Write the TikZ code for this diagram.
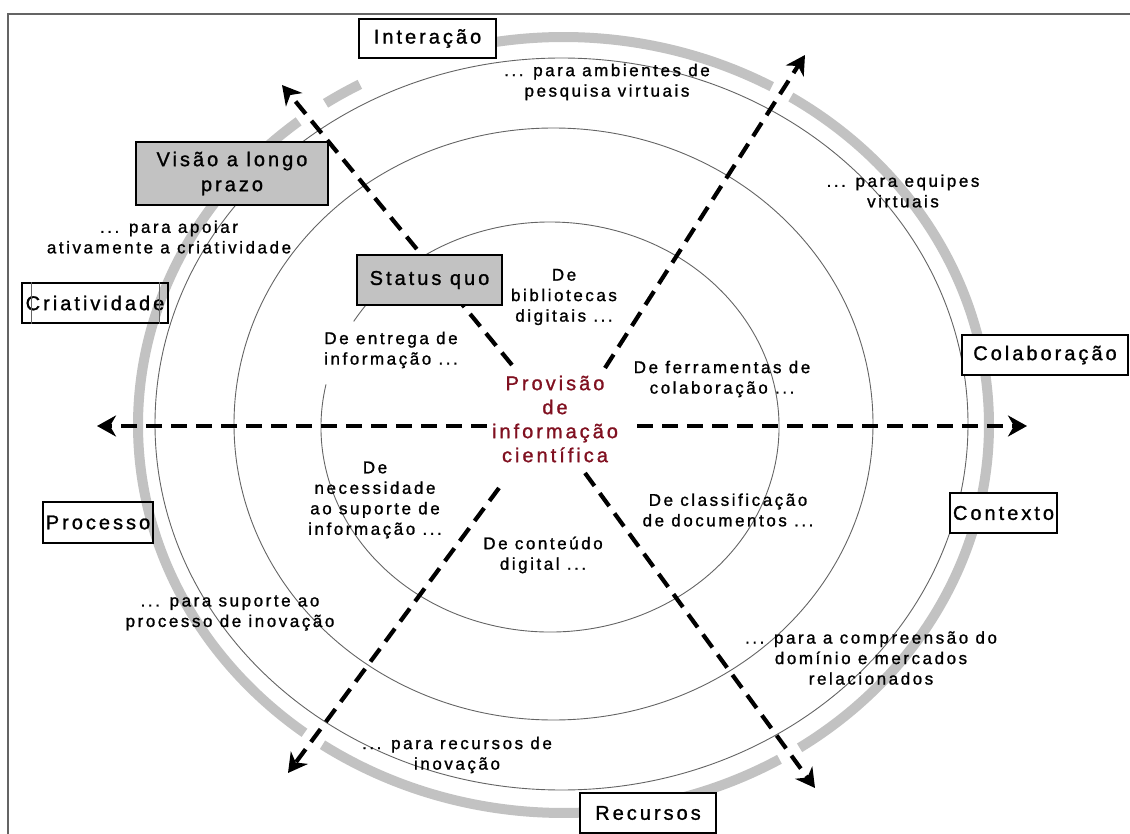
\documentclass[tikz,border=0pt]{standalone}
\usepackage{fontspec}
\setmainfont{Liberation Sans}[LetterSpace=15,FakeBold=1.2]
\usepackage{tikz}
\usetikzlibrary{shapes,arrows,arrows.meta,positioning}
\definecolor{vinho}{RGB}{128,16,32}
\definecolor{cinza}{RGB}{194,194,194}
\definecolor{traco}{RGB}{100,100,100}

\begin{document}
\begin{tikzpicture}[x=1pt,y=-1pt,
	caixa/.style={draw=black,line width=1.2pt,fill=white,minimum height=40pt,inner sep=0pt,font=\fontsize{20}{25}\selectfont,align=center},
	caixacinza/.style={caixa,fill=cinza},
	rotulo/.style={align=center,inner sep=0pt,font=\fontsize{17}{20.5}\selectfont},
	eixo/.style={dash pattern=on 16pt off 9pt,line width=4.2pt,-{Stealth[length=19pt,width=21pt,inset=6pt]}},
	anel/.style={draw=traco,line width=0.9pt},
	faixa/.style={draw=cinza,line width=10pt}]
				\useasboundingbox (0,0) rectangle (1130,834);
				\draw [draw=traco, line width=1.5pt] (8,14) rectangle (1140,845);
				% faixa cinza externa
				\draw [faixa] (563.5,425) ++(-60.7:425.5 and 388) arc [start angle=-60.7, end angle=-103, x radius=425.5, y radius=388];
				\draw [faixa] (563.5,425) ++(-118.6:425.5 and 388) arc [start angle=-118.6, end angle=-124, x radius=425.5, y radius=388];
				\draw [faixa] (563.5,425) ++(-128.5:425.5 and 388) arc [start angle=-128.5, end angle=-232.5, x radius=425.5, y radius=388];
				\draw [faixa] (563.5,425) ++(-235.5:425.5 and 388) arc [start angle=-235.5, end angle=-300.5, x radius=425.5, y radius=388];
				\draw [faixa] (563.5,425) ++(-303.7:425.5 and 388) arc [start angle=-303.7, end angle=-417.7, x radius=425.5, y radius=388];
				% aneis finos
				\draw [anel] (561.5,424) ellipse [x radius=406.5, y radius=366];
				\draw [anel] (553.5,424) ellipse [x radius=319.5, y radius=296];
				\draw [anel] (550,427) ++(-168:229 and 205) arc [start angle=-168, end angle=-509, x radius=229, y radius=205];
				% eixos
				\coordinate (oW) at (487,426);	\coordinate (pW) at (97,426);
				\coordinate (oE) at (637,426);	\coordinate (pE) at (1027,426);
				\coordinate (oNW) at (512,365);	\coordinate (pNW) at (282,85);
				\coordinate (oNE) at (605,368);	\coordinate (pNE) at (805,55);
				\coordinate (oSW) at (499,488);	\coordinate (pSW) at (288,773);
				\coordinate (oSE) at (585,473);	\coordinate (pSE) at (815,788);
				\draw [eixo] (oW) -- (pW);
				\draw [eixo] (oE) -- (pE);
				\draw [eixo] (oNW) -- (pNW);
				\draw [eixo] (oNE) -- (pNE);
				\draw [eixo] (oSW) -- (pSW);
				\draw [eixo] (oSE) -- (pSE);
				% caixas
				\node [caixa, minimum width=137pt, minimum height=39pt] (inter) at (427.5,38.5) {Interação};
				\node [caixacinza, minimum width=192pt, minimum height=63pt] (visao) at (232,173.5) {Visão a longo\\prazo};
				\node [caixa, fill=none, minimum width=146pt] (criat) at (95,303) {Criatividade};
				\draw [draw=traco, line width=0.6pt] ([xshift=10pt]criat.north west) -- ([xshift=10pt]criat.south west);
				\draw [draw=traco, line width=0.6pt] ([xshift=-9pt]criat.north east) -- ([xshift=-9pt]criat.south east);
				\node [caixacinza, minimum width=145pt, minimum height=50pt] (status) at (429.5,280) {Status quo};
				\node [caixa, minimum width=166pt] (colab) at (1045,355) {Colaboração};
				\node [caixa, minimum width=107pt] (contex) at (1003.5,513) {Contexto};
				\node [caixa, fill=none, minimum width=110pt, minimum height=41pt] (proc) at (98,522.5) {Processo};
				\node [caixa, minimum width=136pt] (recur) at (648,813) {Recursos};
				% rotulos
				\node [rotulo, text=vinho, font=\fontsize{20}{24}\selectfont] (prov) at (555,419) {Provisão\\de\\informação\\científica};
				\node [rotulo] (amb) at (607,82) {... para ambientes de\\pesquisa virtuais};
				\node [rotulo] (equip) at (903,191) {... para equipes\\virtuais};
				\node [rotulo] (apoiar) at (169,237) {... para apoiar\\ativamente a criatividade};
				\node [rotulo] (bibl) at (564,297) {De\\bibliotecas\\digitais ...};
				\node [rotulo] (entr) at (391,350) {De entrega de\\informação ...};
				\node [rotulo] (ferr) at (722,379) {De ferramentas de\\colaboração ...};
				\node [rotulo] (nece) at (375,500) {De\\necessidade\\ao suporte de\\informação ...};
				\node [rotulo] (cont) at (543,555) {De conteúdo\\digital ...};
				\node [rotulo] (class) at (728,510) {De classificação\\de documentos ...};
				\node [rotulo] (supor) at (230,613) {... para suporte ao\\processo de inovação};
				\node [rotulo] (compr) at (871,658) {... para a compreensão do\\domínio e mercados\\relacionados};
				\node [rotulo] (recin) at (457,755) {... para recursos de\\inovação};
				\end{tikzpicture}
\end{document}
